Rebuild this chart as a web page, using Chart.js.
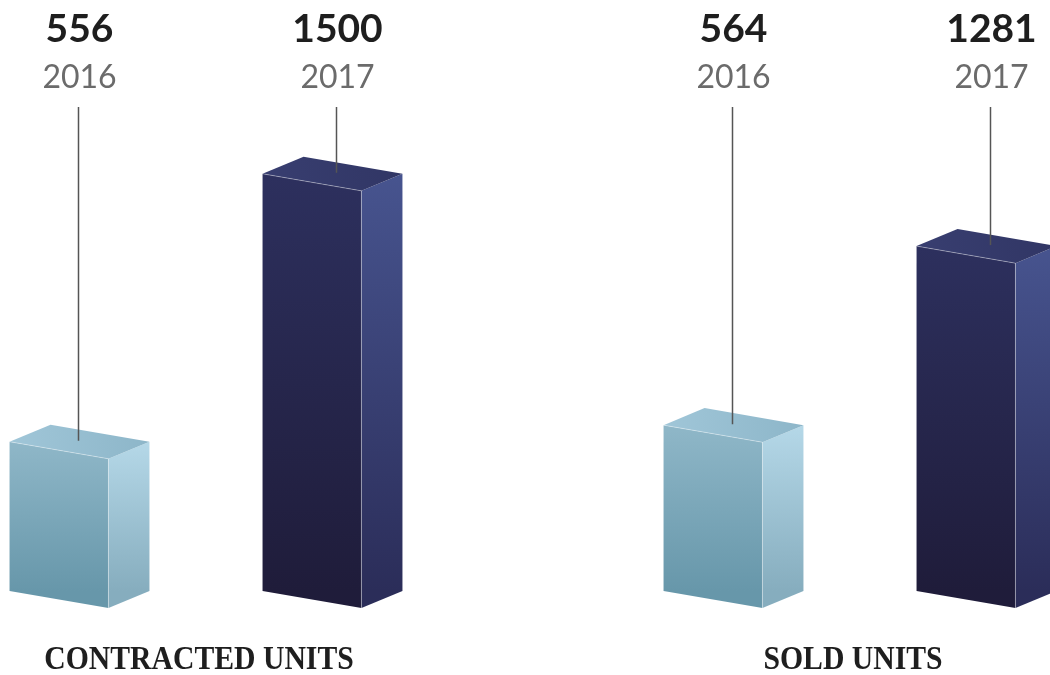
<!DOCTYPE html>
<html>
<head>
<meta charset="utf-8">
<script src="https://cdn.jsdelivr.net/npm/chart.js@4.4.1/dist/chart.umd.min.js"></script>
<style>
  html, body { margin: 0; padding: 0; background: #fff; }
  body { width: 1050px; height: 675px; position: relative; overflow: hidden; }
  .panel { position: absolute; top: 0; width: 506px; height: 675px; }
  #contracted-wrap { left: -47px; }
  #sold-wrap { left: 607px; }
</style>
</head>
<body>
<div class="panel" id="contracted-wrap"><canvas id="contracted"></canvas></div>
<div class="panel" id="sold-wrap"><canvas id="sold"></canvas></div>
<script>
const years = ["2016", "2017"];
const contracted = [556, 1500];
const sold = [564, 1281];
const panelTitles = ["CONTRACTED UNITS", "SOLD UNITS"];

// face colours per year: [front top, front bottom, side top, side bottom, lid left, lid right]
const palettes = [
  ["#8fb7c8", "#6797aa", "#b5d8e8", "#86adbe", "#a0c6d8", "#8db6c9"],
  ["#2d305e", "#1f1c3a", "#47548f", "#2b2d59", "#383e70", "#313665"],
];
// the 2017 labels sit a little right of the lid centre
const labelShift = [0, 5];

const poly = (ctx, pts, fill) => {
  ctx.beginPath();
  ctx.moveTo(pts[0][0], pts[0][1]);
  pts.slice(1).forEach((p) => ctx.lineTo(p[0], p[1]));
  ctx.closePath();
  ctx.fillStyle = fill;
  ctx.fill();
};

const vGrad = (ctx, y0, y1, c0, c1) => {
  const g = ctx.createLinearGradient(0, y0, 0, y1);
  g.addColorStop(0, c0);
  g.addColorStop(1, c1);
  return g;
};

// draws each bar as a box, plus the value/year labels and leader lines
const boxPlugin = {
  id: "box3d",
  afterDatasetsDraw(chart, args, opts) {
    const ctx = chart.ctx;
    const meta = chart.getDatasetMeta(0);
    const values = chart.data.datasets[0].data;
    const area = chart.chartArea;
    ctx.save();
    meta.data.forEach((bar, i) => {
      const { x, y, base, width } = bar.getProps(["x", "y", "base", "width"], true);
      const c = palettes[i];
      const depth = width * 0.293;
      const fw = width - depth;
      const skew = width * 0.122;
      const left = x - width / 2;

      const fl = [left, y], fr = [left + fw, y + skew];
      const bl = [left, base], br = [left + fw, base + skew];
      const sr = [left + width, y], sbr = [left + width, base];
      const back = [left + depth, y - skew];

      poly(ctx, [fl, fr, br, bl], vGrad(ctx, y, base, c[0], c[1]));
      poly(ctx, [fr, sr, sbr, br], vGrad(ctx, y, base, c[2], c[3]));
      const lid = ctx.createLinearGradient(left, 0, left + width, 0);
      lid.addColorStop(0, c[4]);
      lid.addColorStop(1, c[5]);
      poly(ctx, [fl, back, sr, fr], lid);

      // soft highlight on the front edges
      ctx.strokeStyle = "rgba(255,255,255,0.35)";
      ctx.lineWidth = 1;
      ctx.beginPath();
      ctx.moveTo(fl[0], fl[1]);
      ctx.lineTo(fr[0], fr[1]);
      ctx.lineTo(br[0], br[1]);
      ctx.stroke();

      const lx = x + labelShift[i];

      // leader line down to the lid
      ctx.strokeStyle = "#555";
      ctx.lineWidth = 1.5;
      ctx.beginPath();
      ctx.moveTo(lx - 1, 107);
      ctx.lineTo(lx - 1, y - 1);
      ctx.stroke();

      ctx.textAlign = "center";
      ctx.textBaseline = "alphabetic";
      ctx.fillStyle = "#1e1e1e";
      ctx.font = "bold 39px Lato";
      ctx.fillText(String(values[i]), lx, 42);
      ctx.fillStyle = "#6b6b6b";
      ctx.font = "32px Lato";
      ctx.fillText(chart.data.labels[i], lx, 88);
    });

    // condensed serif panel title
    ctx.fillStyle = "#1e1e1e";
    ctx.font = "bold 33px 'Liberation Serif'";
    ctx.textAlign = "center";
    ctx.translate((area.left + area.right) / 2 - 7, 669);
    ctx.scale(0.9, 1);
    ctx.fillText(opts.title, 0, 0);
    ctx.restore();
  },
};

const makePanel = (id, values, title, min, max) =>
  new Chart(document.getElementById(id), {
    type: "bar",
    data: {
      labels: years,
      datasets: [
        {
          data: values,
          base: min,
          backgroundColor: "transparent",
          borderWidth: 0,
          barPercentage: 1,
          categoryPercentage: 0.553,
        },
      ],
    },
    options: {
      responsive: true,
      maintainAspectRatio: false,
      animation: false,
      layout: { padding: { top: 100, bottom: 84, left: 0, right: 0 } },
      scales: {
        x: { display: false },
        y: { display: false, min, max },
      },
      plugins: {
        legend: { display: false },
        tooltip: { enabled: false },
        box3d: { title },
      },
    },
    plugins: [boxPlugin],
  });

makePanel("contracted", contracted, panelTitles[0], 30, 1760);
makePanel("sold", sold, panelTitles[1], -100, 1866);
</script>
</body>
</html>
